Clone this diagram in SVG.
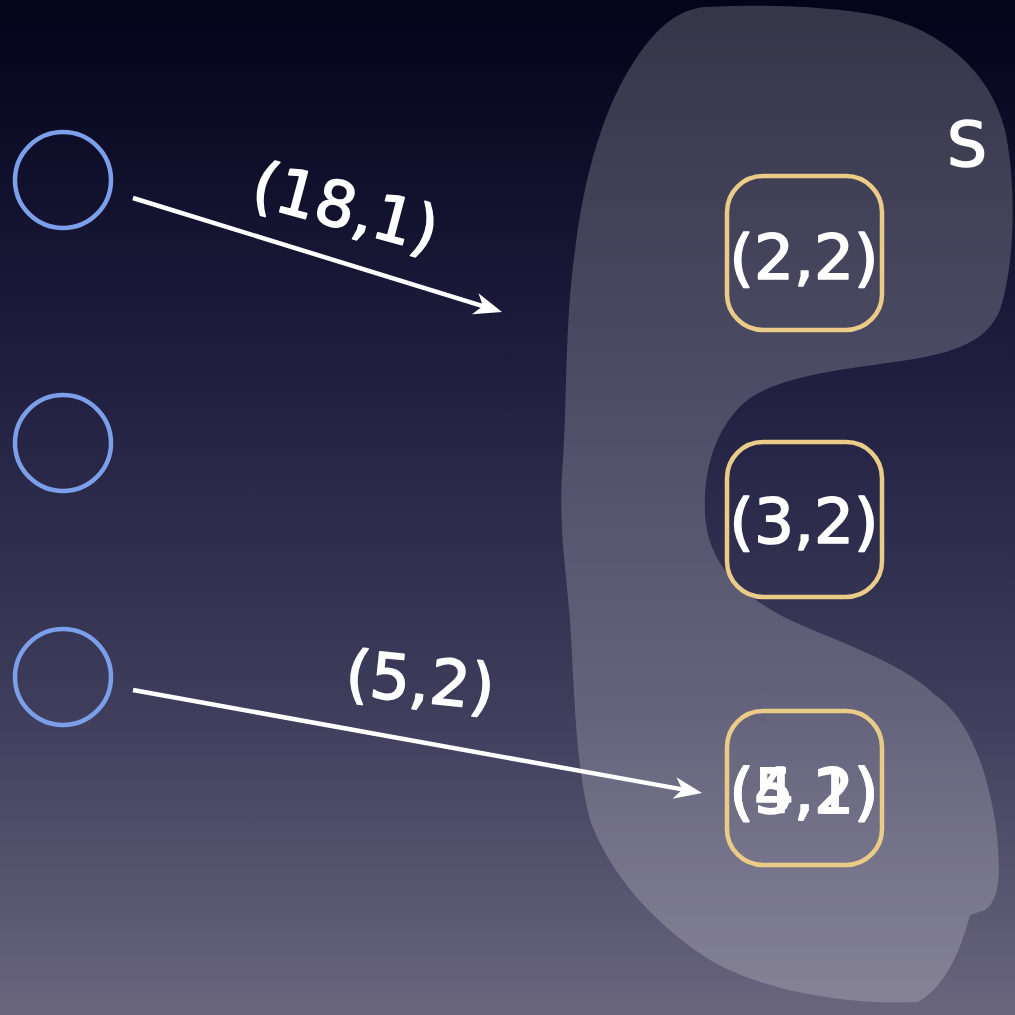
<svg xmlns="http://www.w3.org/2000/svg" width="1015" height="1015" viewBox="0 0 1015 1015">
  <defs>
    <linearGradient id="bg" x1="0" y1="0" x2="0" y2="1">
      <stop offset="0" stop-color="#03031a"/>
      <stop offset="0.35" stop-color="#1e1d3d"/>
      <stop offset="0.7" stop-color="#3f3d5c"/>
      <stop offset="1" stop-color="#6a667e"/>
    </linearGradient>
    <marker id="arrow" viewBox="0 0 28 24" refX="8" refY="12" markerWidth="28" markerHeight="24" markerUnits="userSpaceOnUse" orient="auto">
      <path d="M0,1 L28,12 L0,23 L8,12 Z" fill="#ffffff"/>
    </marker>
    <style>
      .src { fill: none; stroke: #7b9fe8; stroke-width: 4.5; }
      .box { fill: none; stroke: #ebcb88; stroke-width: 4.5; }
      .lbl { fill: #ffffff; stroke: #ffffff; stroke-width: 1.6; stroke-linejoin: round; font-family: "DejaVu Sans", "Noto Sans", sans-serif; font-size: 63px; text-anchor: middle; }
      .edge { stroke: #ffffff; stroke-width: 4.5; fill: none; }
    </style>
  </defs>

  <rect x="0" y="0" width="1015" height="1015" fill="url(#bg)"/>

  <!-- set S region -->
  <g id="set-s">
    <path fill="#ffffff" fill-opacity="0.2" d="M705,7 C765,4 830,6 880,16 C940,30 990,70 1005,130 C1016,180 1016,260 1000,310 C985,345 950,355 880,364 C830,371 780,378 750,398 C715,425 703,470 705,515 C708,560 735,590 780,615 C830,640 900,660 935,695 C965,715 985,760 995,820 C1002,870 1000,900 985,910 L970,915 C962,945 948,985 918,1002 C860,1005 770,995 710,960 C655,925 610,875 590,820 C575,760 575,700 570,620 C565,560 558,520 563,460 C567,400 565,320 575,250 C585,170 605,105 635,60 C658,25 680,9 705,7 Z"/>
    <text class="lbl" x="967" y="166" font-size="60">S</text>
  </g>

  <!-- source nodes -->
  <g id="src-1"><circle class="src" cx="63" cy="180" r="48"/></g>
  <g id="src-2"><circle class="src" cx="63" cy="443" r="48"/></g>
  <g id="src-3"><circle class="src" cx="63" cy="677" r="48"/></g>

  <!-- elements of S -->
  <g id="elem-2-2">
    <rect class="box" x="727" y="176" width="155" height="154" rx="36"/>
    <text class="lbl" x="804" y="279">(2,2)</text>
  </g>
  <g id="elem-3-2">
    <rect class="box" x="727" y="442" width="155" height="155" rx="36"/>
    <text class="lbl" x="804" y="543">(3,2)</text>
  </g>
  <g id="elem-5-2">
    <rect class="box" x="727" y="711" width="155" height="154" rx="36"/>
    <text class="lbl" x="804" y="813">(5,2)</text>
    <text class="lbl" x="804" y="813">(4,1)</text>
  </g>

  <!-- connectors -->
  <g id="connectors">
    <line class="edge" x1="133" y1="198" x2="482.9" y2="306.1" marker-end="url(#arrow)"/>
    <text class="lbl" x="0" y="0" transform="translate(340,228) rotate(15)">(18,1)</text>
    <line class="edge" x1="133" y1="690" x2="682.3" y2="789.4" marker-end="url(#arrow)"/>
    <text class="lbl" x="0" y="0" transform="translate(418,702) rotate(6)">(5,2)</text>
  </g>
</svg>
